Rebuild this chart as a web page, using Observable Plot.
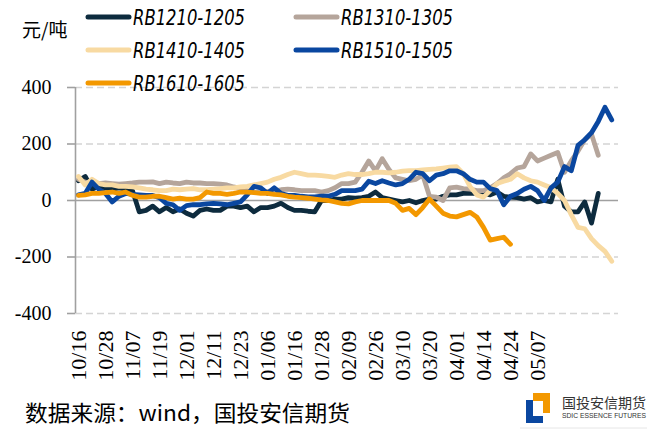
<!DOCTYPE html>
<html><head><meta charset="utf-8">
<script src="https://cdn.jsdelivr.net/npm/d3@7"></script>
<script src="https://cdn.jsdelivr.net/npm/@observablehq/plot@0.6"></script>
<style>
html,body{margin:0;padding:0;background:#fff;}
#wrap{position:relative;width:647px;height:430px;overflow:hidden;background:#fff;}
#wrap > svg{position:absolute;left:0;top:0;}
</style></head><body><div id="wrap"></div>
<script>
// x tick labels (every 4th sample; samples are every 2 trading days)
const dateLabels = ["10/16","10/28","11/07","11/19","12/01","12/11","12/23","01/06","01/16","01/28","02/09","02/26","03/10","03/20","04/01","04/14","04/24","05/07"];
const seriesNames = ["RB1210-1205","RB1310-1305","RB1410-1405","RB1510-1505","RB1610-1605"];
const seriesColors = ["#0d2b3e","#b5a59b","#f8daa2","#0a47a0","#f39800"];
const yTicks = [-400,-200,0,200,400];

const rb1210 = [70,85,40,50,45,40,45,40,35,-40, -35,-20,-40,-25,-40,-30,-45,-55,-35,-30,
  -35,-35,-20,-20,-25,-20,-40,-25,-25,-20, -10,-25,-35,-35,-38,-40,0,0,5,5,
  10,8,10,15,30,10,5,0,-5,0, -8,0,5,5,15,20,20,25,25,25,
  25,20,30,15,12,10,5,10,-5,0, -5,75,-20,-40,-40,-5,-80,25];
const rb1310 = [75,65,60,60,62,60,58,60,62,65, 65,66,60,65,62,60,65,62,62,60,
  60,58,55,48,42,35,30,30,32,35, 38,40,38,35,35,35,30,35,45,60,
  60,65,100,140,105,148,110,80,75,70, 75,90,15,12,0,45,47,42,40,35,
  35,45,60,80,95,115,120,165,140,150, 160,170,100,140,175,215,235,160];
const rb1410 = [85,55,75,60,55,55,50,50,48,45, 40,38,35,35,40,38,40,42,38,38,
  40,42,45,45,48,50,55,60,65,75, 82,92,100,95,90,90,88,85,82,90,
  95,92,92,95,100,100,98,100,104,106, 106,108,110,112,115,118,120,95,50,20,
  12,35,60,68,75,95,80,70,65,55, 45,25,0,-50,-95,-100,-135,-160,-180,-215];
const rb1510 = [20,25,65,40,25,-5,15,25,22,20, 18,18,10,-10,-15,-35,-18,-15,-15,-12,
  -10,-12,-15,-10,-5,20,50,45,25,45, 25,18,18,15,13,13,15,15,22,35,
  35,35,40,68,60,70,62,55,60,75, 100,95,70,90,95,105,105,95,75,65,
  65,42,35,-15,15,25,40,50,35,0, 45,65,120,105,195,215,240,280,330,285];
const rb1610 = [18,20,25,25,28,30,25,30,18,12, 12,15,15,10,5,8,5,5,10,30,
  25,25,22,25,30,30,28,25,25,22, 20,15,12,10,8,5,2,0,-5,-10,
  -12,-5,0,0,0,0,0,-10,-35,-28, -50,-25,5,-20,-45,-55,-58,-50,-42,-58,
  -95,-140,-135,-130,-155];

const seriesValues = [rb1210, rb1310, rb1410, rb1510, rb1610];
const rows = [];
seriesNames.forEach((name, s) => seriesValues[s].forEach((v, i) => rows.push({series: name, i, v})));
const tickIndex = dateLabels.map((d, k) => k * 4);

const chart = Plot.plot({
  width: 647, height: 430,
  marginLeft: 75, marginRight: 29, marginTop: 87, marginBottom: 117,
  style: {color: "#000", background: "transparent", overflow: "visible"},
  x: {domain: [-0.44, 80]},
  y: {domain: [-400, 400]},
  marks: [
    Plot.ruleY([-400, -200, 200, 400], {stroke: "#d4d4d4", strokeWidth: 1.3, strokeDasharray: "7,4"}),
    Plot.ruleY([0], {stroke: "#a0a0a0", strokeWidth: 1.6}),
    Plot.ruleX([-0.44], {stroke: "#a0a0a0", strokeWidth: 1.6}),
    Plot.axisY(yTicks, {tickSize: 8, tickPadding: 16, stroke: "#a0a0a0", strokeWidth: 1.6, strokeOpacity: 1,
      fontSize: 20, fill: "#000", tickFormat: d => String(d), label: null}),
    Plot.axisX(tickIndex, {tickFormat: i => dateLabels[i / 4], tickRotate: -90, tickSize: 0, tickPadding: 17,
      fontSize: 22, fill: "#000", label: null}),
    ...seriesNames.map((name, s) => Plot.line(rows, {
      filter: d => d.series === name, x: "i", y: "v", stroke: seriesColors[s],
      strokeWidth: 4.8, strokeLinejoin: "round", strokeLinecap: "round"
    }))
  ]
});
// serif tick labels, explicit sizes
d3.select(chart).selectAll("g[aria-label='y-axis tick label'] text")
  .style("font-family", "'Liberation Serif',serif").style("font-size", "20px");
d3.select(chart).selectAll("g[aria-label='x-axis tick label'] text")
  .style("font-family", "'Liberation Serif',serif").style("font-size", "22px");
const wrap = document.getElementById("wrap");
wrap.appendChild(chart);

// overlay: legend, unit, source, logo
const ov = d3.select(wrap).append("svg").attr("width", 647).attr("height", 430)
  .style("pointer-events", "none");
const legendPos = [[88, 17], [296, 17], [88, 50], [296, 50], [88, 83]];
seriesNames.forEach((name, s) => {
  const [x, y] = legendPos[s];
  ov.append("line").attr("x1", x).attr("x2", x + 41).attr("y1", y).attr("y2", y)
    .attr("stroke", seriesColors[s]).attr("stroke-width", 5).attr("stroke-linecap", "round");
  ov.append("text").attr("x", x + 45).attr("y", y + 8).text(name)
    .attr("font-family", "'DejaVu Sans Condensed','Liberation Sans',sans-serif")
    .attr("font-style", "italic").attr("font-size", 21)
    .attr("textLength", 112).attr("lengthAdjust", "spacingAndGlyphs").attr("fill", "#000");
});
ov.append("text").attr("x", 22).attr("y", 37).text("元/吨")
  .attr("font-family", "'Noto Sans CJK SC',sans-serif").attr("font-size", 19).attr("fill", "#000");
ov.append("text").attr("x", 25).attr("y", 421).text("数据来源：wind，国投安信期货")
  .attr("font-family", "'Noto Sans CJK SC',sans-serif").attr("font-size", 22).attr("fill", "#000")
  .attr("textLength", 325).attr("lengthAdjust", "spacingAndGlyphs");
// logo
ov.append("path").attr("d", "M526,400 H533 V416 H543 V423 H526 Z").attr("fill", "#0a47a0");
ov.append("path").attr("d", "M533,393 H550 V413 H543 V401 H533 Z").attr("fill", "#f39800");
ov.append("text").attr("x", 562).attr("y", 408).text("国投安信期货")
  .attr("font-family", "'Noto Sans CJK SC',sans-serif").attr("font-size", 14).attr("fill", "#333")
  .attr("textLength", 84).attr("lengthAdjust", "spacingAndGlyphs");
ov.append("text").attr("x", 562).attr("y", 418).text("SDIC ESSENCE FUTURES")
  .attr("font-family", "'Liberation Sans',sans-serif").attr("font-size", 6.5).attr("fill", "#333")
  .attr("textLength", 84).attr("lengthAdjust", "spacingAndGlyphs");
ov.append("line").attr("x1", 520).attr("x2", 647).attr("y1", 428).attr("y2", 428)
  .attr("stroke", "#e6e6e6").attr("stroke-width", 1);
</script></body></html>
